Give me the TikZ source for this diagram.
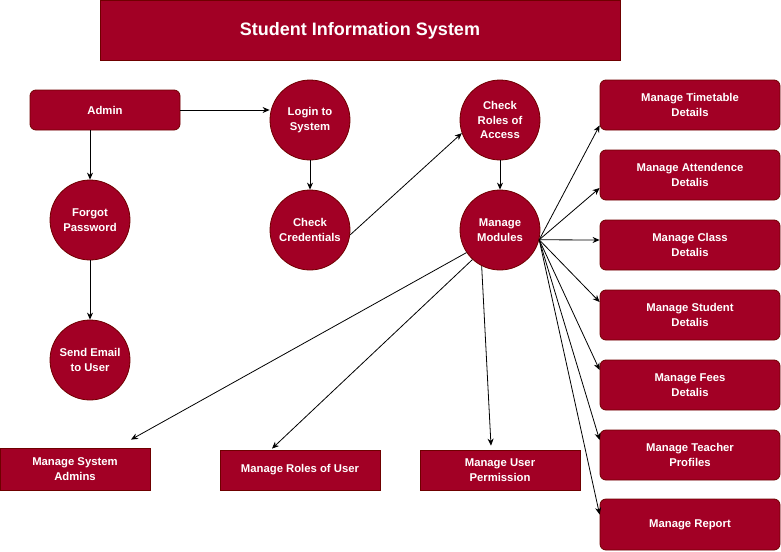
\documentclass[tikz,border=0pt]{standalone}
\usepackage{fontspec}
\setmainfont{Liberation Sans}
\usetikzlibrary{arrows.meta}
\definecolor{boxred}{HTML}{A20025}
\definecolor{boxedge}{HTML}{6F0000}
\tikzset{
  base/.style={fill=boxred, draw=boxedge, line width=0.8pt, text=white, align=center,
    font=\bfseries\fontsize{11.3}{14.8}\selectfont, inner sep=0pt},
  circ/.style={base, circle, minimum size=80pt},
  rbox/.style={base, rectangle, rounded corners=6pt, minimum width=180pt, minimum height=50pt},
  sbox/.style={base, rectangle, minimum width=160pt, minimum height=40pt},
  flow/.style={draw=black, line width=0.8pt, -{Stealth[length=7pt,width=6pt]}}
}
\begin{document}
\begin{tikzpicture}[x=1pt,y=-1pt]
\useasboundingbox (0,0) rectangle (781,551);

% title banner
\node[base, rectangle, minimum width=520pt, minimum height=60pt,
  font=\bfseries\fontsize{18}{21}\selectfont] (title) at (360,30.5) {Student Information System};

% login flow
\node[base, rectangle, rounded corners=6pt, minimum width=150pt, minimum height=40pt] (admin) at (105,110) {Admin};
\node[circ] (login) at (310,120) {Login to\\System};
\node[circ] (forgot) at (90,220) {Forgot\\Password};
\node[circ] (email) at (90,360) {Send Email\\to User};
\node[circ] (cred) at (310,230) {Check\\Credentials};
\node[circ] (roles) at (500,120) {Check\\Roles of\\Access};
\node[circ] (mm) at (500,230) {Manage\\Modules};

% module boxes on the right
\node[rbox] (tt) at (690,105) {Manage Timetable\\Details};
\node[rbox] (att) at (690,175) {Manage Attendence\\Detalis};
\node[rbox] (cls) at (690,245) {Manage Class\\Detalis};
\node[rbox] (stu) at (690,315) {Manage Student\\Detalis};
\node[rbox] (fee) at (690,385) {Manage Fees\\Detalis};
\node[rbox] (tch) at (690,455) {Manage Teacher\\Profiles};
\node[rbox, minimum height=51pt] (rep) at (690,524.5) {Manage Report};

% module boxes along the bottom
\node[sbox, minimum width=150pt, minimum height=42pt] (sa) at (75,469) {Manage System\\Admins};
\node[sbox] (ru) at (300,470) {Manage Roles of User};
\node[sbox] (up) at (500,470) {Manage User\\Permission};

% connectors
\draw[flow] (admin.east) -- (login.west |- admin.east);
\draw[flow] (admin.south -| forgot.north) -- (forgot.north);
\draw[flow] (forgot.south) -- (email.north);
\draw[flow] (login.south) -- (cred.north);
\draw[flow] (cred.-7) -- (roles.199);
\draw[flow] (roles.south) -- (mm.north);

\coordinate (hub) at (mm.-14);
\draw[flow] (hub) -- ([yshift=5pt]tt.south west);
\draw[flow] (hub) -- ([yshift=-13pt]att.west);
\draw[flow] (hub) -- ([yshift=5pt]cls.west);
\draw[flow] (hub) -- ([yshift=13pt]stu.west);
\draw[flow] (hub) -- ([yshift=15pt]fee.west);
\draw[flow] (hub) -- ([yshift=15pt]tch.west);
\draw[flow] (hub) -- ([yshift=10pt]rep.west);

\draw[flow] (mm.214) -- ([xshift=56pt,yshift=8pt]sa.north);
\draw[flow] (mm.227) -- ([xshift=-28pt,yshift=1pt]ru.north);
\draw[flow] (mm.243) -- ([xshift=-9pt,yshift=4pt]up.north);
\end{tikzpicture}
\end{document}
